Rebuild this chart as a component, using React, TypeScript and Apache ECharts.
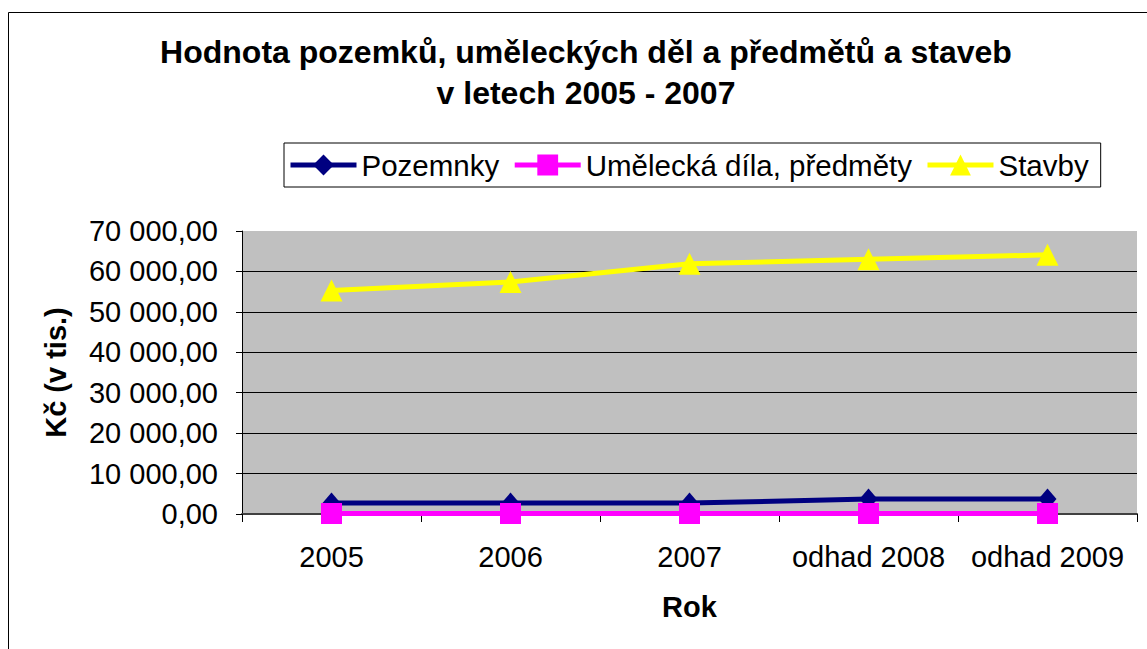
import React, { useEffect, useRef } from "react";
import * as echarts from "echarts";

const categories = ["2005", "2006", "2007", "odhad 2008", "odhad 2009"];
const pozemnky = [2700, 2700, 2700, 3700, 3700];
const umelecka = [120, 120, 120, 120, 120];
const stavby = [55300, 57400, 61900, 63000, 64100];
const seriesNames = ["Pozemnky", "Umělecká díla, předměty", "Stavby"];
const yMin = 0;
const yMax = 70000;
const yInterval = 10000;

const FONT = "'Liberation Sans', Arial, Helvetica, sans-serif";

function fmt(v: number): string {
  const s = Math.round(v).toString().replace(/\B(?=(\d{3})+(?!\d))/g, " ");
  return s + ",00";
}

export default function App() {
  const ref = useRef<HTMLDivElement>(null);
  useEffect(() => {
    if (!ref.current) return;
    const chart = echarts.init(ref.current, undefined, { renderer: "svg" });
    const option: any = {
      animation: false,
      backgroundColor: "#ffffff",
      title: {
        text: "Hodnota pozemků, uměleckých děl a předmětů a staveb\nv letech 2005 - 2007",
        left: 586,
        top: 31,
        padding: 0,
        textAlign: "center",
        textStyle: {
          fontFamily: FONT,
          fontSize: 32,
          fontWeight: "bold",
          color: "#000",
          lineHeight: 41,
        },
      },
      legend: {
        left: 284,
        top: 143,
        padding: [7, 12, 7, 4],
        borderColor: "#000",
        borderWidth: 1,
        itemWidth: 66,
        itemHeight: 26,
        itemGap: 13,
        data: seriesNames,
        lineStyle: { width: 5 },
        textStyle: { fontFamily: FONT, fontSize: 29.5, color: "#000" },
      },
      graphic: [
        {
          type: "rect",
          shape: { x: 8.5, y: 12.5, width: 1200, height: 700 },
          style: { fill: "none", stroke: "#000", lineWidth: 1 },
          silent: true,
          z: -1,
        },
      ],
      grid: {
        left: 242,
        right: 10,
        top: 231,
        bottom: 135,
        show: true,
        backgroundColor: "#C0C0C0",
        borderWidth: 0,
      },
      xAxis: {
        type: "category",
        data: categories,
        boundaryGap: true,
        name: "Rok",
        nameLocation: "middle",
        nameGap: 78,
        nameTextStyle: { fontFamily: FONT, fontSize: 29, fontWeight: "bold", color: "#000" },
        axisLine: { lineStyle: { color: "#404040", width: 2 } },
        axisTick: { show: true, length: 8, lineStyle: { color: "#000" } },
        axisLabel: { fontFamily: FONT, fontSize: 29, color: "#000", margin: 28, interval: 0 },
        splitLine: { show: false },
      },
      yAxis: {
        type: "value",
        min: yMin,
        max: yMax,
        interval: yInterval,
        name: "Kč (v tis.)",
        nameLocation: "middle",
        nameRotate: 90,
        nameGap: 172,
        nameTextStyle: { fontFamily: FONT, fontSize: 29, fontWeight: "bold", color: "#000" },
        axisLine: { show: true, lineStyle: { color: "#000", width: 1 } },
        axisTick: { show: true, length: 6, lineStyle: { color: "#000" } },
        axisLabel: {
          fontFamily: FONT,
          fontSize: 29,
          color: "#000",
          margin: 24,
          formatter: (v: number) => fmt(v),
        },
        splitLine: { show: true, showMaxLine: false, lineStyle: { color: "#000", width: 1 } },
      },
      series: [
        {
          name: seriesNames[0],
          type: "line",
          data: pozemnky,
          symbol: "diamond",
          symbolSize: [18, 21],
          lineStyle: { color: "#000080", width: 5 },
          itemStyle: { color: "#000080" },
          z: 2,
        },
        {
          name: seriesNames[1],
          type: "line",
          data: umelecka,
          symbol: "rect",
          symbolSize: 21,
          lineStyle: { color: "#FF00FF", width: 5 },
          itemStyle: { color: "#FF00FF" },
          z: 3,
        },
        {
          name: seriesNames[2],
          type: "line",
          data: stavby,
          symbol: "triangle",
          symbolSize: 22,
          lineStyle: { color: "#FFFF00", width: 5 },
          itemStyle: { color: "#FFFF00" },
          z: 4,
        },
      ],
    };
    chart.setOption(option);
    return () => chart.dispose();
  }, []);
  return (
    <div
      ref={ref}
      style={{ position: "fixed", left: 0, top: 0, width: 1147, height: 649 }}
    />
  );
}
